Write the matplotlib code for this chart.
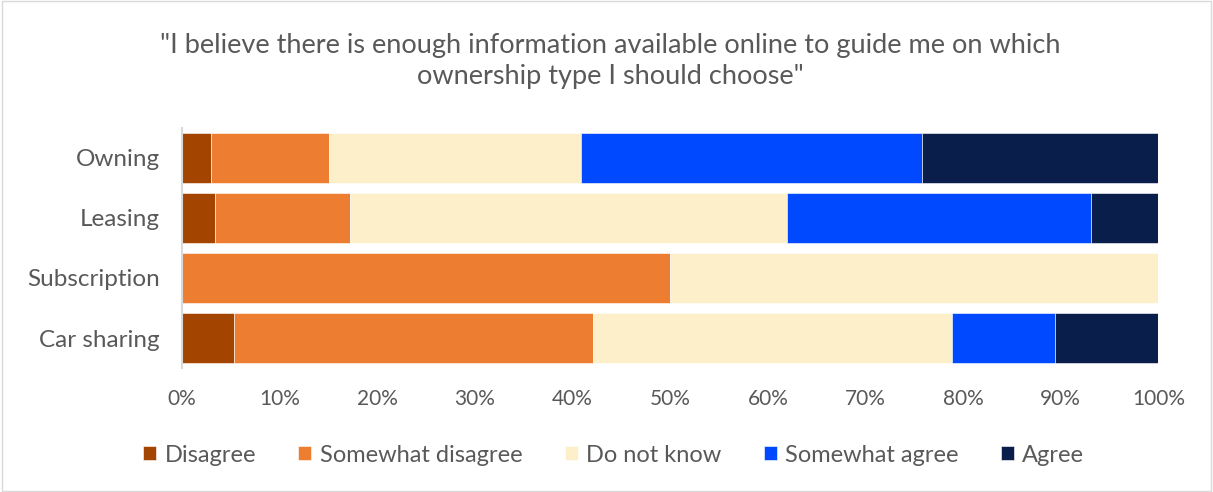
import matplotlib.pyplot as plt
import numpy as np

plt.rcParams['font.family'] = ['Lato', 'DejaVu Sans']

categories = ['Owning', 'Leasing', 'Subscription', 'Car sharing']
responses = ['Disagree', 'Somewhat disagree', 'Do not know', 'Somewhat agree', 'Agree']

# share of answers per ownership type, in %
disagree = [3.0, 3.4, 0.0, 5.3]
somewhat_disagree = [12.1, 13.8, 50.0, 36.8]
do_not_know = [25.8, 44.8, 50.0, 36.8]
somewhat_agree = [34.9, 31.1, 0.0, 10.5]
agree = [24.2, 6.9, 0.0, 10.6]

colors = ['#A34400', '#ED7D31', '#FDEFC9', '#0049FF', '#0A1E4B']
ticks = np.arange(0, 101, 10)
tick_labels = ['%d%%' % t for t in ticks]

fig = plt.figure(figsize=(12.13, 4.92), dpi=100)
ax = fig.add_axes([0.150, 0.252, 0.805, 0.488])

y = np.arange(len(categories))
left = np.zeros(len(categories))
for name, vals, c in zip(responses,
                         [disagree, somewhat_disagree, do_not_know, somewhat_agree, agree],
                         colors):
    vals = np.array(vals)
    ax.barh(y, vals, left=left, height=0.83, color=c, label=name,
            edgecolor='white', linewidth=0.4)
    left += vals

ax.set_xlim(0, 100)
ax.set_ylim(len(categories) - 0.5, -0.5)
ax.set_yticks(y)
ax.set_yticklabels(categories, fontsize=17.5, color='#595959')
ax.set_xticks(ticks)
ax.set_xticklabels(tick_labels, fontsize=15, color='#595959')
ax.tick_params(axis='y', length=0, pad=16)
ax.tick_params(axis='x', length=0, pad=15)
for s in ['top', 'right', 'bottom']:
    ax.spines[s].set_visible(False)
ax.spines['left'].set_color('#D9D9D9')
ax.spines['left'].set_linewidth(1.5)

fig.text(0.503, 0.876,
         '"I believe there is enough information available online to guide me on which\n'
         'ownership type I should choose"',
         ha='center', va='center', fontsize=19.5, color='#595959', linespacing=1.3)

ax.legend(loc='center', bbox_to_anchor=(0.506, 0.075), bbox_transform=fig.transFigure,
          ncol=5, frameon=False, fontsize=17, handlelength=0.55, handleheight=0.55,
          handletextpad=0.35, columnspacing=1.8, labelcolor='#595959')

# thin frame around the whole chart
fig.patches.append(plt.Rectangle((0.002, 0.002), 0.996, 0.996, transform=fig.transFigure,
                                 fill=False, edgecolor='#D9D9D9', linewidth=1))

fig.savefig('out.png', dpi=100)
